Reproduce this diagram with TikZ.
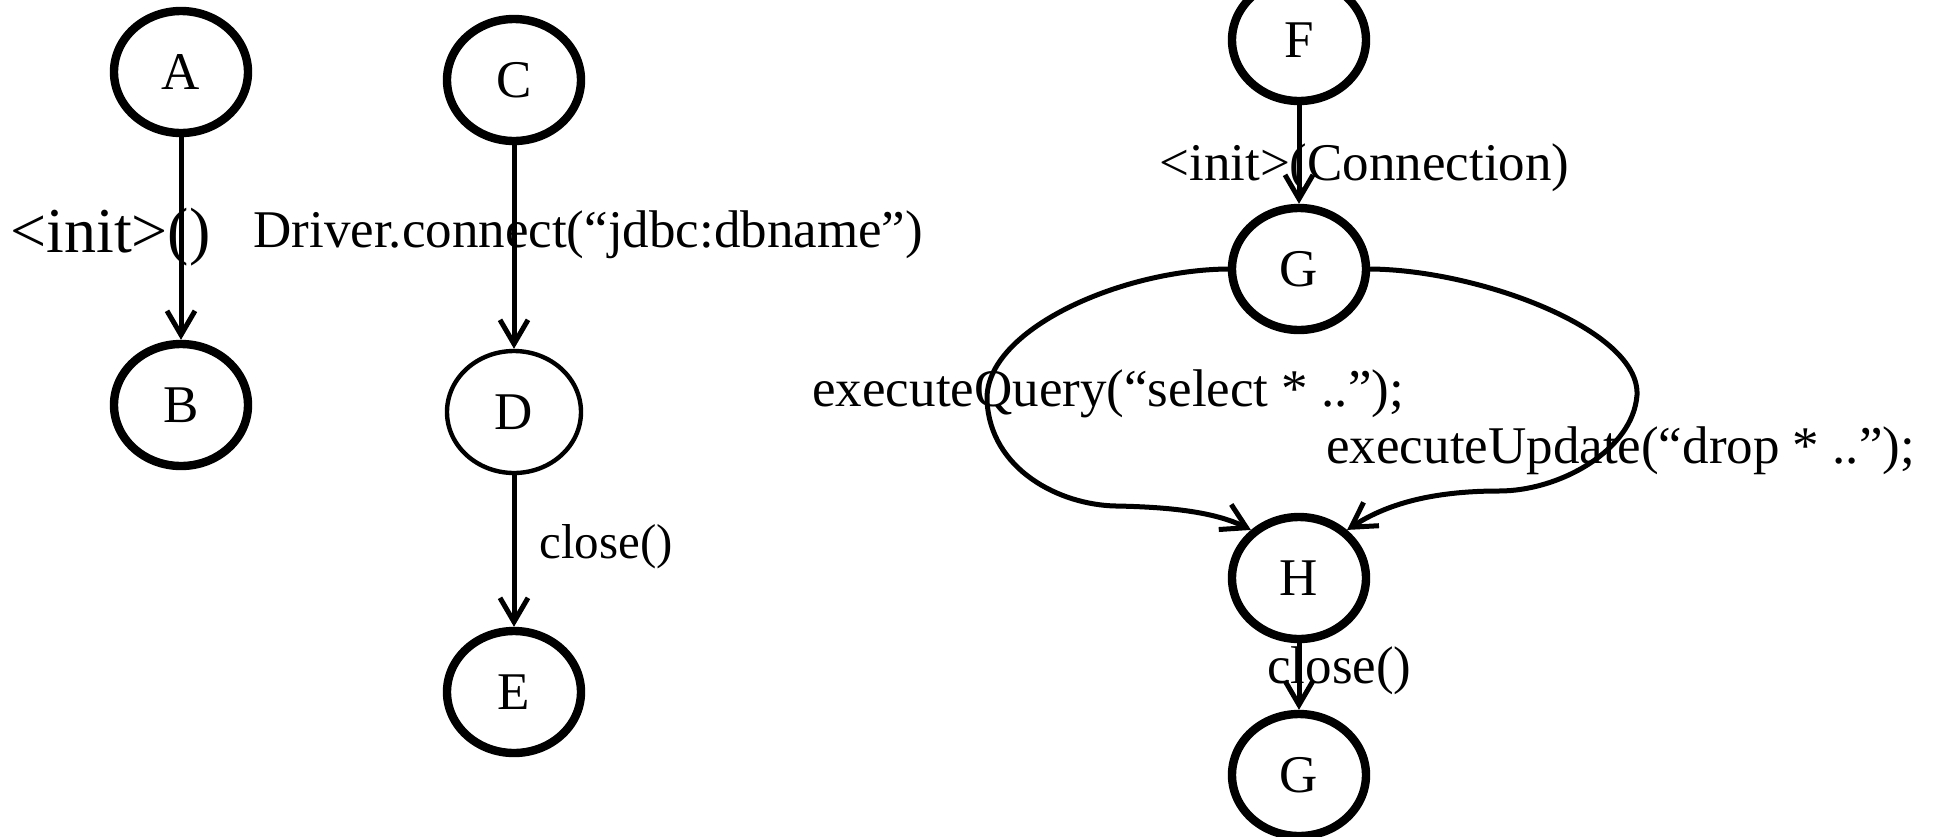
\documentclass[tikz,border=0pt]{standalone}
\usepackage{fontspec}
\setmainfont{Liberation Serif}
\usetikzlibrary{shapes.geometric,arrows.meta}
\begin{document}
\begin{tikzpicture}[x=0.5pt,y=-0.5pt,
  state/.style={ellipse,draw,line width=4.2pt,minimum width=67pt,minimum height=61pt,
    inner sep=0pt,font=\fontsize{26.5}{30}\selectfont},
  thinstate/.style={state,line width=2.2pt},
  edge/.style={line width=2.5pt,-{Straight Barb[length=12pt,width=14pt]}},
  lbl/.style={anchor=base west,inner sep=0pt,font=\fontsize{26.5}{30}\selectfont},
  biglbl/.style={lbl,font=\fontsize{32}{36}\selectfont},
  smalllbl/.style={lbl,font=\fontsize{24.5}{28}\selectfont}]
\useasboundingbox (0,0) rectangle (1934,836);

% states
\node[state] (A) at (181,72) {A};
\node[state] (B) at (181,405) {B};
\node[state] (C) at (514,80) {C};
\node[thinstate] (D) at (514,412) {D};
\node[state] (E) at (514,692) {E};
\node[state] (F) at (1299,40) {F};
\node[state] (G) at (1299,269) {G};
\node[state] (H) at (1299,578) {H};
\node[state] (G2) at (1299,775) {G};

% transitions
\draw[edge] (A) -- (B);
\draw[edge] (C) -- (D);
\draw[edge] (D) -- (E);
\draw[edge] (F) -- (G);
\draw[edge] (H) -- (G2);
\draw[edge] (G.west) .. controls (1120,270) and (985,330) .. (987,400)
  .. controls (990,470) and (1060,505) .. (1116,506)
  .. controls (1170,507) and (1215,512) .. (H.135);
\draw[edge] (G.east) .. controls (1480,270) and (1640,330) .. (1637,395)
  .. controls (1633,450) and (1560,491) .. (1499,491)
  .. controls (1430,491) and (1385,505) .. (H.45);

% transition labels
\node[biglbl] (l1) at (10,252) {<init>()};
\node[lbl] (l2) at (253,247) {Driver.connect(“jdbc:dbname”)};
\node[smalllbl] (l3) at (539,558) {close()};
\node[lbl] (l4) at (1159,180) {<init>(Connection)};
\node[lbl] (l5) at (812,406) {executeQuery(“select * ..”);};
\node[lbl] (l6) at (1326,463) {executeUpdate(“drop * ..”);};
\node[lbl] (l7) at (1267,683) {close()};
\end{tikzpicture}
\end{document}
